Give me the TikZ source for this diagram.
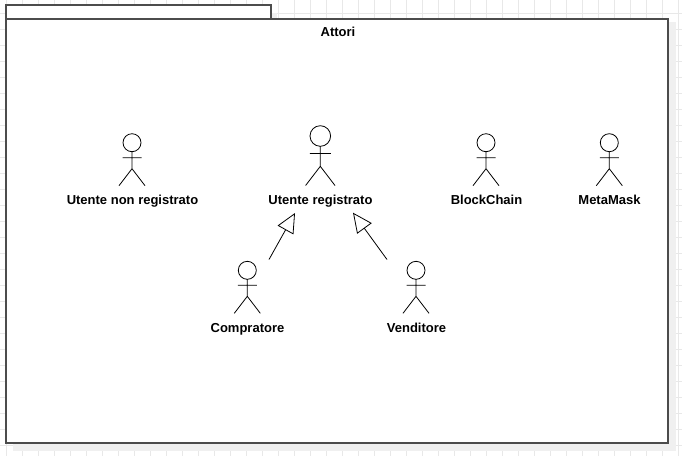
\documentclass[tikz,border=0pt]{standalone}
\usepackage{fontspec}
\setmainfont{Liberation Sans}
\usetikzlibrary{arrows.meta, positioning}

\begin{document}
\begin{tikzpicture}[
  x=1pt, y=-1pt,
  frame/.style = {draw=black!70, line width=1.3pt, fill=white},
  backshade/.style = {fill=black!6, draw=none},
  gridline/.style = {draw=black!9, line width=0.8pt},
  actorlabel/.style = {font=\fontsize{13}{15}\selectfont\bfseries, inner sep=0pt, text height=9pt, text depth=3pt},
  arrow/.style = {-{Triangle[open, length=19.5pt, width=18pt]}, line width=0.8pt},
  actor/.pic = {
    \draw[line width=0.8pt] (0,0) circle (9) (0,9) -- (0,26) (-9.5,15) -- (9.5,15)
      (0,26) -- (-13,43) (0,26) -- (13,43);
  },
  bigactor/.pic = {
    \draw[line width=0.8pt] (0,0) circle (10.3) (0,10.3) -- (0,30.3) (-10.5,17.5) -- (10.5,17.5)
      (0,30.3) -- (-14.7,49.5) (0,30.3) -- (14.7,49.5);
  }
]
\useasboundingbox (0,0) rectangle (682,456);

% Grid
\foreach \gx in {6.5,22.5,...,680} \draw[gridline] (\gx,0) -- (\gx,456);
\foreach \gy in {13.3,29.3,...,456} \draw[gridline] (0,\gy) -- (682,\gy);

% Package
\fill[backshade] (13,22) rectangle (676,451);
\fill[backshade] (271,13) rectangle (277,22);
\draw[frame] (6,5) rectangle (271,19);
\draw[frame] (6,19) rectangle (668,443);
\node[actorlabel] (attori) at (338,33.5) {Attori};

% Actors
\pic at (132,142.7) {actor};
\pic at (320.3,136) {bigactor};
\pic at (486,142.7) {actor};
\pic at (609.3,142.7) {actor};
\pic at (247.3,270.3) {actor};
\pic at (416,270.3) {actor};

\node[actorlabel] (utente) at (132.5,201) {Utente non registrato};
\node[actorlabel] (registrato) at (320.5,201) {Utente registrato};
\node[actorlabel] (blockchain) at (486.5,201) {BlockChain};
\node[actorlabel] (metamask) at (609.5,201) {MetaMask};
\node[actorlabel] (compratore) at (247.5,329) {Compratore};
\node[actorlabel] (venditore) at (416.5,329) {Venditore};

% Arrows
\coordinate (from1) at (269,259.5);
\coordinate (to1) at (295,213);
\coordinate (from2) at (387,259.5);
\coordinate (to2) at (353,212.7);
\draw[arrow] (from1) -- (to1);
\draw[arrow] (from2) -- (to2);
\end{tikzpicture}
\end{document}
